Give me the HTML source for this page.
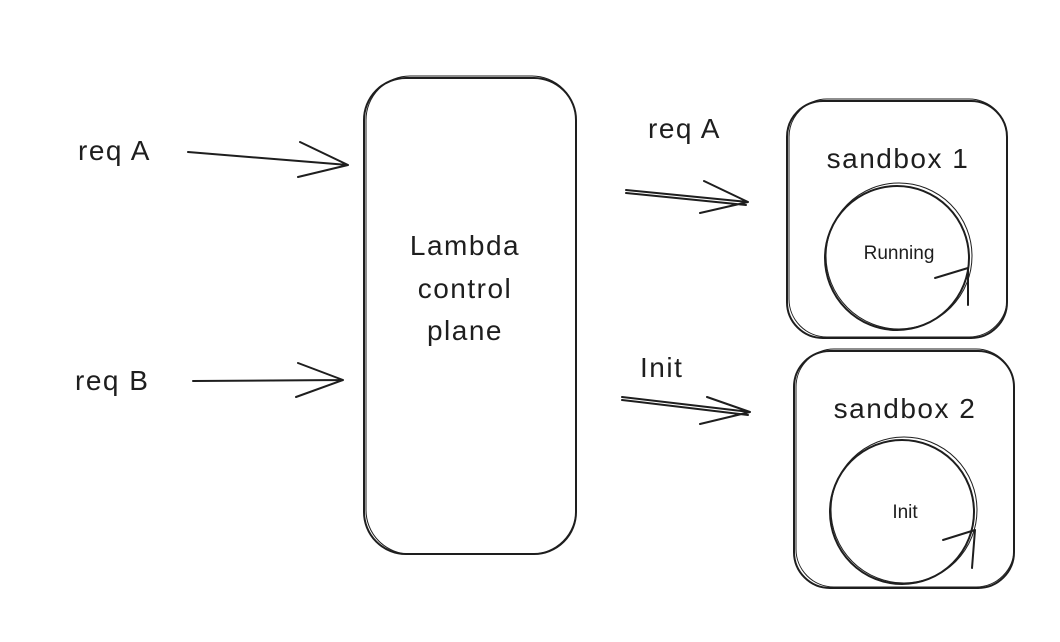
<!DOCTYPE html>
<html><head><meta charset="utf-8"><style>
html,body{margin:0;padding:0;background:#fff;width:1060px;height:642px;overflow:hidden}
svg{display:block}
text{font-family:"Liberation Sans","DejaVu Sans",sans-serif;fill:#1e1e1e}
.b{letter-spacing:1.5px}
</style></head><body>
<svg width="1060" height="642" viewBox="0 0 1060 642" xmlns="http://www.w3.org/2000/svg">
<g fill="none" stroke="#1e1e1e" stroke-width="2" stroke-linecap="round" stroke-linejoin="round">
<rect x="364" y="78" width="212" height="476" rx="42"/>
<rect x="366" y="76" width="210" height="478" rx="44" stroke-width="1"/>
<rect x="787" y="101" width="220" height="237" rx="36"/>
<rect x="789" y="99" width="218" height="238" rx="38" stroke-width="1"/>
<rect x="794" y="351" width="220" height="237" rx="36"/>
<rect x="796" y="349" width="218" height="238" rx="38" stroke-width="1"/>
<circle cx="897" cy="258" r="72"/>
<circle cx="899" cy="256" r="73" stroke-width="1"/>
<path d="M935 278 L968 268 L968 305"/>
<circle cx="902" cy="512" r="72"/>
<circle cx="904" cy="510" r="73" stroke-width="1"/>
<path d="M943 540 L975 530 L972 568"/>
<path d="M188 152 L348 165 M300 142 L348 165 L298 177"/>
<path d="M193 381 L343 380 M298 363 L343 380 L296 397"/>
<path d="M626 190 L748 202 M626 193 L746 205 M704 181 L748 202 L700 213"/>
<path d="M622 397 L750 412 M622 400 L748 415 M707 397 L750 412 L700 424"/>
</g>
<text class="b" x="78" y="160" font-size="28">req A</text>
<text class="b" x="75" y="390" font-size="28">req B</text>
<text class="b" x="465" y="255" font-size="28" text-anchor="middle">Lambda</text>
<text class="b" x="465" y="298" font-size="28" text-anchor="middle">control</text>
<text class="b" x="465" y="340" font-size="28" text-anchor="middle">plane</text>
<text class="b" x="648" y="138" font-size="28">req A</text>
<text class="b" x="640" y="377" font-size="28">Init</text>
<text class="b" x="898" y="168" font-size="28" text-anchor="middle">sandbox 1</text>
<text class="b" x="905" y="418" font-size="28" text-anchor="middle">sandbox 2</text>
<text x="899" y="259" font-size="19" text-anchor="middle">Running</text>
<text x="905" y="518" font-size="19" text-anchor="middle">Init</text>
</svg>
</body></html>
